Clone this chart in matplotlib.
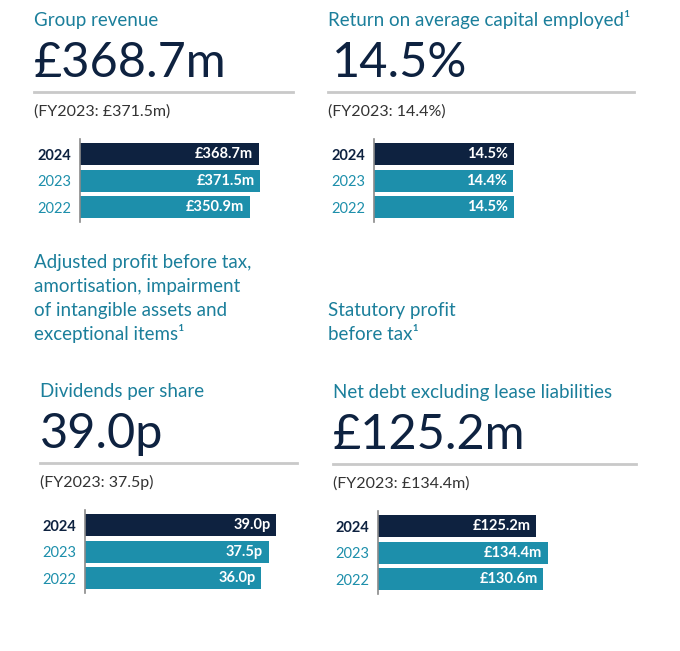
import matplotlib.pyplot as plt

W, H = 680, 651
NAVY = '#0e2240'
TEAL = '#1d8fab'
TITLE = '#1b7f9b'
GREY_TXT = '#333333'
RULE = '#c9c9c9'

plt.rcParams['font.family'] = ['Lato', 'DejaVu Sans']

years = ['2024', '2023', '2022']

revenue = [368.7, 371.5, 350.9]
revenue_lbl = ['£368.7m', '£371.5m', '£350.9m']

roce = [14.5, 14.4, 14.5]
roce_lbl = ['14.5%', '14.4%', '14.5%']

dps = [39.0, 37.5, 36.0]
dps_lbl = ['39.0p', '37.5p', '36.0p']

net_debt = [125.2, 134.4, 130.6]
net_debt_lbl = ['£125.2m', '£134.4m', '£130.6m']

fig = plt.figure(figsize=(W / 100, H / 100), dpi=100)


def fx(x):
    return x / W


def fy(y):
    return 1 - y / H


def txt(x, y, s, **kw):
    fig.text(fx(x), fy(y), s, va='baseline', ha='left', **kw)


def panel(x0, y0, title, big, prev, vals, labels, ax_x, ppu, line_w, big_dx=0):
    # headline block
    txt(x0, y0 + 26, title, fontsize=13.5, color=TITLE)
    txt(x0 + big_dx, y0 + 77, big, fontsize=35, color=NAVY)
    fig.add_artist(plt.Line2D([fx(x0), fx(x0 + line_w)], [fy(y0 + 92)] * 2,
                              color=RULE, lw=2, transform=fig.transFigure))
    txt(x0, y0 + 116, prev, fontsize=11.5, color=GREY_TXT)

    # small bar chart
    top, bot = y0 + 139, y0 + 222
    aw = 260
    ax = fig.add_axes([fx(ax_x), fy(bot), aw / W, (bot - top) / H])
    cols = [NAVY, TEAL, TEAL]
    ypos = [0, 1, 2]
    ax.barh(ypos, vals, height=0.83, color=cols)
    ax.set_xlim(0, aw / ppu)
    ax.set_ylim(2.55, -0.58)
    for yi, v, lb in zip(ypos, vals, labels):
        ax.annotate(lb, (v, yi), xytext=(-4, 0), textcoords='offset points',
                    ha='right', va='center', color='white', fontsize=10.5,
                    fontweight='bold')
    ax.set_yticks(ypos)
    ax.set_yticklabels(years, fontsize=10.5)
    ax.tick_params(axis='y', length=0, pad=6)
    for i, t in enumerate(ax.get_yticklabels()):
        if i == 0:
            t.set_color(NAVY)
            t.set_fontweight('bold')
        else:
            t.set_color(TEAL)
    ax.set_xticks([])
    for s in ['top', 'right', 'bottom']:
        ax.spines[s].set_visible(False)
    ax.spines['left'].set_color('#8a8a8a')
    ax.spines['left'].set_linewidth(1.2)
    ax.patch.set_alpha(0)


panel(34, 0, 'Group revenue', '£368.7m', '(FY2023: £371.5m)',
      revenue, revenue_lbl, 80, 180 / 371.5, 259)
panel(328, 0, 'Return on average capital employed¹', '14.5%', '(FY2023: 14.4%)',
      roce, roce_lbl, 374, 140 / 14.5, 306, big_dx=4)
panel(40, 371, 'Dividends per share', '39.0p', '(FY2023: 37.5p)',
      dps, dps_lbl, 85, 191 / 39.0, 257)
panel(333, 372, 'Net debt excluding lease liabilities', '£125.2m', '(FY2023: £134.4m)',
      net_debt, net_debt_lbl, 378, 170 / 134.4, 303)

mid_left = ['Adjusted profit before tax,', 'amortisation, impairment',
            'of intangible assets and', 'exceptional items¹']
for i, line in enumerate(mid_left):
    txt(34, 268 + 24 * i, line, fontsize=13.5, color=TITLE)
for i, line in enumerate(['Statutory profit', 'before tax¹']):
    txt(328, 316 + 24 * i, line, fontsize=13.5, color=TITLE)

fig.savefig('out.png', dpi=100, facecolor='white')
